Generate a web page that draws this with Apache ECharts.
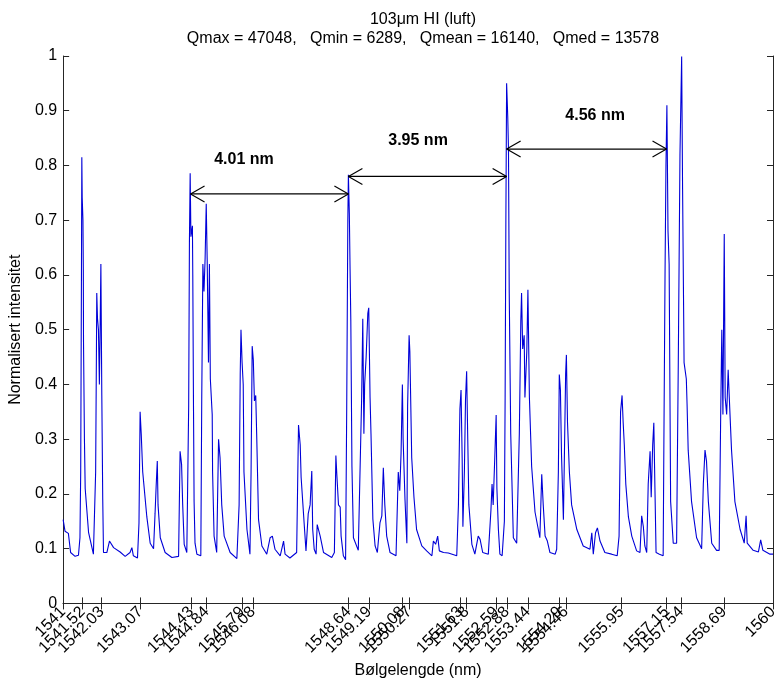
<!DOCTYPE html>
<html>
<head>
<meta charset="utf-8">
<script src="https://cdn.jsdelivr.net/npm/echarts@6/dist/echarts.min.js"></script>
<style>
  html, body { margin: 0; padding: 0; background: #fff; }
  #chart { width: 784px; height: 684px; }
</style>
</head>
<body>
<div id="chart"></div>
<script>
// Bølgelengde (nm) og normalisert intensitet, lest av figuren
const wavelength = [
  1541.00, 1541.05, 1541.14, 1541.20, 1541.32, 1541.41, 1541.45, 1541.47, 1541.49, 1541.50,
  1541.51, 1541.53, 1541.54, 1541.545, 1541.57, 1541.59, 1541.68, 1541.81, 1541.87, 1541.89,
  1541.90, 1541.92, 1541.945, 1541.97, 1541.99, 1542.01, 1542.035, 1542.06, 1542.08, 1542.17,
  1542.24, 1542.35, 1542.525, 1542.66, 1542.79, 1542.84, 1542.88, 1542.99, 1543.03, 1543.06,
  1543.09, 1543.13, 1543.24, 1543.33, 1543.42, 1543.46, 1543.49, 1543.52, 1543.54, 1543.60,
  1543.73, 1543.91, 1544.09, 1544.13, 1544.17, 1544.20, 1544.24, 1544.31, 1544.36, 1544.38,
  1544.40, 1544.42, 1544.46, 1544.47, 1544.49, 1544.505, 1544.53, 1544.58, 1544.685, 1544.71,
  1544.74, 1544.77, 1544.80, 1544.83, 1544.855, 1544.89, 1544.915, 1544.94, 1544.99, 1545.00,
  1545.04, 1545.11, 1545.16, 1545.20, 1545.245, 1545.31, 1545.47, 1545.65, 1545.71, 1545.74,
  1545.76, 1545.79, 1545.82, 1545.84, 1545.92, 1546.00, 1546.03, 1546.06, 1546.09, 1546.12,
  1546.155, 1546.18, 1546.23, 1546.32, 1546.45, 1546.54, 1546.60, 1546.67, 1546.81, 1546.90,
  1546.94, 1547.07, 1547.25, 1547.30, 1547.345, 1547.37, 1547.45, 1547.50, 1547.56, 1547.61,
  1547.655, 1547.68, 1547.72, 1547.77, 1547.80, 1547.88, 1547.97, 1548.19, 1548.26, 1548.30,
  1548.325, 1548.37, 1548.415, 1548.44, 1548.50, 1548.56, 1548.59, 1548.62, 1548.635, 1548.66,
  1548.68, 1548.70, 1548.73, 1548.77, 1548.90, 1548.94, 1548.99, 1549.02, 1549.05, 1549.07,
  1549.11, 1549.155, 1549.18, 1549.215, 1549.24, 1549.29, 1549.35, 1549.41, 1549.48, 1549.53,
  1549.57, 1549.61, 1549.66, 1549.75, 1549.91, 1549.97, 1550.01, 1550.045, 1550.08, 1550.10,
  1550.15, 1550.20, 1550.22, 1550.26, 1550.28, 1550.33, 1550.39, 1550.46, 1550.60, 1550.73,
  1550.87, 1550.91, 1550.97, 1551.025, 1551.07, 1551.18, 1551.31, 1551.535, 1551.58, 1551.62,
  1551.65, 1551.68, 1551.70, 1551.74, 1551.77, 1551.80, 1551.83, 1551.86, 1551.94, 1552.02,
  1552.11, 1552.16, 1552.23, 1552.38, 1552.45, 1552.48, 1552.51, 1552.55, 1552.59, 1552.61,
  1552.65, 1552.69, 1552.75, 1552.81, 1552.83, 1552.85, 1552.87, 1552.90, 1552.92, 1552.94,
  1552.98, 1553.05, 1553.14, 1553.21, 1553.25, 1553.27, 1553.30, 1553.34, 1553.36, 1553.41,
  1553.44, 1553.48, 1553.54, 1553.63, 1553.76, 1553.81, 1553.85, 1553.90, 1553.96, 1554.03,
  1554.17, 1554.21, 1554.255, 1554.28, 1554.31, 1554.34, 1554.39, 1554.41, 1554.45, 1554.47,
  1554.50, 1554.55, 1554.61, 1554.75, 1554.92, 1555.10, 1555.15, 1555.19, 1555.25, 1555.30,
  1555.37, 1555.50, 1555.68, 1555.83, 1555.88, 1555.92, 1555.96, 1555.99, 1556.02, 1556.06,
  1556.13, 1556.22, 1556.35, 1556.44, 1556.485, 1556.53, 1556.57, 1556.62, 1556.66, 1556.71,
  1556.74, 1556.78, 1556.81, 1556.84, 1556.87, 1556.96, 1557.06, 1557.08, 1557.11, 1557.135,
  1557.16, 1557.19, 1557.22, 1557.26, 1557.33, 1557.42, 1557.465, 1557.51, 1557.555, 1557.58,
  1557.62, 1557.68, 1557.70, 1557.73, 1557.82, 1557.955, 1558.09, 1558.135, 1558.18, 1558.22,
  1558.27, 1558.36, 1558.49, 1558.56, 1558.60, 1558.63, 1558.66, 1558.695, 1558.72, 1558.76,
  1558.80, 1558.83, 1558.89, 1558.98, 1559.12, 1559.23, 1559.28, 1559.31, 1559.47, 1559.61,
  1559.67, 1559.73, 1559.92, 1560.00
]
const intensity = [
  0.153, 0.132, 0.128, 0.093, 0.086, 0.088, 0.12, 0.24, 0.60, 0.815,
  0.742, 0.70, 0.61, 0.48, 0.30, 0.21, 0.13, 0.09, 0.24, 0.45,
  0.567, 0.52, 0.50, 0.40, 0.50, 0.62, 0.38, 0.19, 0.093, 0.093,
  0.114, 0.102, 0.094, 0.086, 0.093, 0.102, 0.087, 0.083, 0.147, 0.35,
  0.31, 0.24, 0.158, 0.11, 0.10, 0.164, 0.215, 0.26, 0.18, 0.12,
  0.093, 0.084, 0.086, 0.278, 0.254, 0.18, 0.108, 0.093, 0.36, 0.66,
  0.786, 0.67, 0.69, 0.60, 0.35, 0.186, 0.11, 0.09, 0.087, 0.376,
  0.62, 0.57, 0.63, 0.73, 0.63, 0.44, 0.62, 0.41, 0.345, 0.24,
  0.123, 0.093, 0.30, 0.266, 0.18, 0.123, 0.093, 0.082, 0.18, 0.42,
  0.50, 0.44, 0.40, 0.24, 0.135, 0.09, 0.24, 0.47, 0.445, 0.37,
  0.38, 0.31, 0.153, 0.105, 0.09, 0.12, 0.123, 0.099, 0.087, 0.114,
  0.09, 0.083, 0.093, 0.326, 0.29, 0.23, 0.147, 0.096, 0.164, 0.18,
  0.242, 0.135, 0.099, 0.09, 0.144, 0.123, 0.093, 0.084, 0.093, 0.27,
  0.236, 0.18, 0.176, 0.123, 0.087, 0.08, 0.357, 0.70, 0.783, 0.713,
  0.61, 0.516, 0.25, 0.12, 0.097, 0.10, 0.376, 0.52, 0.31, 0.40,
  0.45, 0.53, 0.54, 0.376, 0.31, 0.154, 0.105, 0.093, 0.147, 0.16,
  0.248, 0.18, 0.123, 0.093, 0.087, 0.24, 0.206, 0.275, 0.40, 0.30,
  0.19, 0.11, 0.36, 0.49, 0.46, 0.266, 0.194, 0.135, 0.105, 0.096,
  0.087, 0.114, 0.108, 0.123, 0.096, 0.093, 0.092, 0.087, 0.18, 0.355,
  0.39, 0.266, 0.14, 0.242, 0.373, 0.424, 0.30, 0.18, 0.108, 0.09,
  0.123, 0.117, 0.093, 0.09, 0.17, 0.218, 0.18, 0.26, 0.344, 0.21,
  0.135, 0.09, 0.087, 0.15, 0.376, 0.70, 0.95, 0.89, 0.83, 0.567,
  0.31, 0.12, 0.11, 0.31, 0.516, 0.567, 0.465, 0.49, 0.376, 0.46,
  0.573, 0.376, 0.25, 0.167, 0.12, 0.236, 0.18, 0.123, 0.114, 0.093,
  0.09, 0.099, 0.24, 0.418, 0.39, 0.27, 0.153, 0.24, 0.42, 0.454,
  0.33, 0.24, 0.18, 0.135, 0.105, 0.099, 0.129, 0.09, 0.129, 0.138,
  0.114, 0.093, 0.09, 0.087, 0.123, 0.35, 0.38, 0.33, 0.29, 0.218,
  0.158, 0.123, 0.096, 0.093, 0.16, 0.14, 0.105, 0.093, 0.218, 0.278,
  0.194, 0.29, 0.33, 0.21, 0.093, 0.09, 0.087, 0.30, 0.60, 0.80,
  0.91, 0.68, 0.62, 0.186, 0.11, 0.11, 0.44, 0.82, 0.999, 0.757,
  0.44, 0.41, 0.364, 0.28, 0.186, 0.12, 0.10, 0.218, 0.28, 0.26,
  0.186, 0.11, 0.097, 0.097, 0.345, 0.50, 0.345, 0.675, 0.376, 0.345,
  0.427, 0.376, 0.28, 0.186, 0.135, 0.11, 0.16, 0.11, 0.097, 0.094,
  0.116, 0.097, 0.09, 0.09
]

// Tick-posisjoner på x-aksen (toppene)
const xTicks = [
  1541, 1541.52, 1542.03, 1543.07, 1544.43, 1544.84, 1545.79, 1546.08,
  1548.64, 1549.19, 1550.08, 1550.27, 1551.63, 1551.8, 1552.59, 1552.88,
  1553.44, 1554.29, 1554.46, 1555.95, 1557.15, 1557.54, 1558.69, 1560
]

// Dobbeltpiler mellom toppene
const arrowStart = [1544.41, 1548.635, 1552.87]
const arrowEnd = [1548.635, 1552.87, 1557.15]
const arrowLevel = [0.748, 0.78, 0.83]
const arrowText = ['4.01 nm', '3.95 nm', '4.56 nm']
const labelX = [1545.84, 1550.50, 1555.24]
const labelY = [0.81, 0.846, 0.892]

const FONT = '"Liberation Sans", Arial, sans-serif'
const AXIS_COLOR = '#262626'

const spectrum = wavelength.map((w, i) => [w, intensity[i]])
const arrows = arrowStart.map((s, i) => [s, arrowEnd[i], arrowLevel[i], labelX[i], labelY[i]])

// echarts skjuler etiketten ved siden av min-etiketten hvis de overlapper,
// så min-verdien legges inn to ganger (duplikatet er det som blir skjult)
const xLabelValues = [xTicks[0]].concat(xTicks)

const chart = echarts.init(document.getElementById('chart'))

// tegner en dobbeltpil med åpne pilhoder + tekst
function renderArrow(params, api) {
  const p1 = api.coord([api.value(0), api.value(2)])
  const p2 = api.coord([api.value(1), api.value(2)])
  const pt = api.coord([api.value(3), api.value(4)])
  const hx = 14, hy = 8
  const style = { stroke: '#000', lineWidth: 1.2 }
  return {
    type: 'group',
    children: [
      { type: 'line', shape: { x1: p1[0], y1: p1[1], x2: p2[0], y2: p2[1] }, style },
      { type: 'line', shape: { x1: p1[0], y1: p1[1], x2: p1[0] + hx, y2: p1[1] - hy }, style },
      { type: 'line', shape: { x1: p1[0], y1: p1[1], x2: p1[0] + hx, y2: p1[1] + hy }, style },
      { type: 'line', shape: { x1: p2[0], y1: p2[1], x2: p2[0] - hx, y2: p2[1] - hy }, style },
      { type: 'line', shape: { x1: p2[0], y1: p2[1], x2: p2[0] - hx, y2: p2[1] + hy }, style },
      {
        type: 'text',
        style: {
          text: arrowText[params.dataIndex],
          x: pt[0], y: pt[1],
          align: 'center', verticalAlign: 'middle',
          font: 'bold 16px ' + FONT,
          fill: '#000'
        }
      }
    ]
  }
}

const option = {
  backgroundColor: '#fff',
  animation: false,
  title: {
    text: '103μm HI (luft)\nQmax = 47048,   Qmin = 6289,   Qmean = 16140,   Qmed = 13578',
    left: 418,
    top: 5,
    textAlign: 'center',
    textStyle: { fontFamily: FONT, fontSize: 16, fontWeight: 'normal', color: '#000', lineHeight: 19 }
  },
  grid: { left: 63, right: 11, top: 56, bottom: 68 },
  xAxis: [
    {
      type: 'value',
      min: 1541,
      max: 1560,
      position: 'bottom',
      name: 'Bølgelengde (nm)',
      nameLocation: 'middle',
      nameGap: 44,
      nameTextStyle: { fontFamily: FONT, fontSize: 16, color: '#000' },
      axisLine: { show: true, lineStyle: { color: AXIS_COLOR, width: 1 } },
      axisTick: { show: true, inside: true, length: 6, customValues: xTicks, lineStyle: { color: AXIS_COLOR } },
      axisLabel: {
        customValues: xLabelValues,
        showMinLabel: true,
        showMaxLabel: true,
        hideOverlap: false,
        rotate: 45,
        margin: 6,
        fontFamily: FONT,
        fontSize: 16,
        color: '#000',
        formatter: v => String(+(+v).toFixed(2))
      },
      splitLine: { show: false }
    },
    {
      type: 'value',
      min: 1541,
      max: 1560,
      position: 'top',
      axisLine: { show: true, lineStyle: { color: AXIS_COLOR, width: 1 } },
      axisTick: { show: true, inside: true, length: 6, customValues: xTicks, lineStyle: { color: AXIS_COLOR } },
      axisLabel: { show: false },
      splitLine: { show: false }
    }
  ],
  yAxis: [
    {
      type: 'value',
      min: 0,
      max: 1,
      interval: 0.1,
      name: 'Normalisert intensitet',
      nameLocation: 'middle',
      nameGap: 31,
      nameTextStyle: { fontFamily: FONT, fontSize: 16, color: '#000' },
      axisLine: { show: true, lineStyle: { color: AXIS_COLOR, width: 1 } },
      axisTick: { show: true, inside: true, length: 6, lineStyle: { color: AXIS_COLOR } },
      axisLabel: { margin: 6, fontFamily: FONT, fontSize: 16, color: '#000' },
      splitLine: { show: false }
    },
    {
      type: 'value',
      min: 0,
      max: 1,
      interval: 0.1,
      position: 'right',
      axisLine: { show: true, lineStyle: { color: AXIS_COLOR, width: 1 } },
      axisTick: { show: true, inside: true, length: 6, lineStyle: { color: AXIS_COLOR } },
      axisLabel: { show: false },
      splitLine: { show: false }
    }
  ],
  series: [
    {
      name: 'spektrum',
      type: 'line',
      data: spectrum,
      showSymbol: false,
      lineStyle: { color: '#0000d8', width: 1.1 },
      itemStyle: { color: '#0000d8' },
      z: 2
    },
    {
      name: 'piler',
      type: 'custom',
      renderItem: renderArrow,
      data: arrows,
      clip: false,
      z: 3
    }
  ]
}

chart.setOption(option)

window.addEventListener('resize', () => {
  chart && chart.resize()
})
</script>
</body>
</html>
